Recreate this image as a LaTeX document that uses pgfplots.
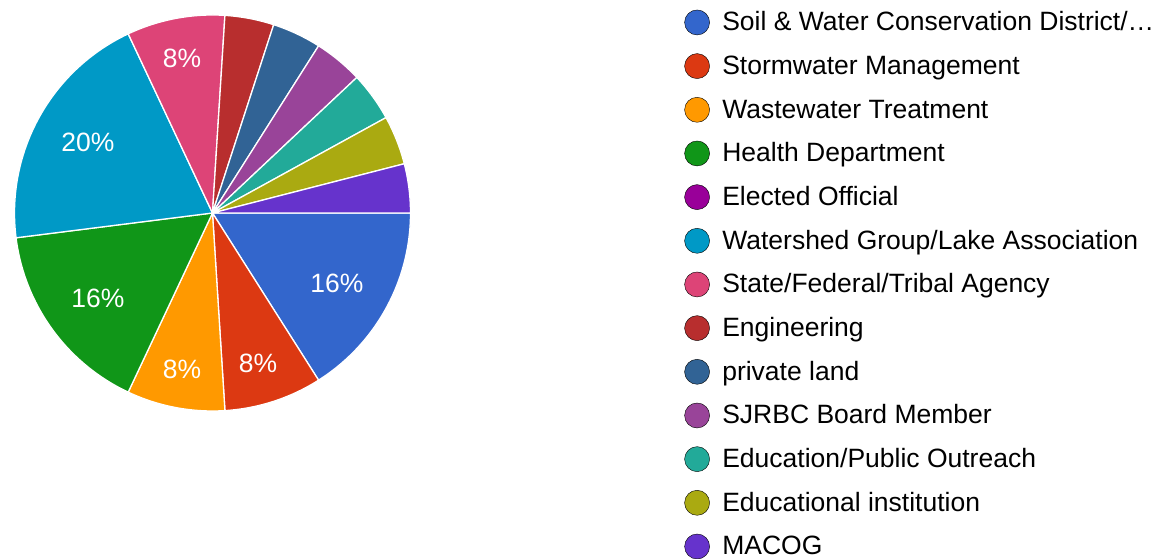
\documentclass[border=0pt]{standalone}
\usepackage{fontspec}
\setmainfont{Liberation Sans}
\usepackage{pgfplots}
\pgfplotsset{compat=1.18}
\definecolor{c1}{HTML}{3366CC}
\definecolor{c2}{HTML}{DC3912}
\definecolor{c3}{HTML}{FF9900}
\definecolor{c4}{HTML}{109618}
\definecolor{c5}{HTML}{990099}
\definecolor{c6}{HTML}{0099C6}
\definecolor{c7}{HTML}{DD4477}
\definecolor{c8}{HTML}{B82E2E}
\definecolor{c9}{HTML}{316395}
\definecolor{c10}{HTML}{994499}
\definecolor{c11}{HTML}{22AA99}
\definecolor{c12}{HTML}{AAAA11}
\definecolor{c13}{HTML}{6633CC}
% responses per category (25 in total); a slice runs from the running total before it to the one after it
% angle: clockwise from 3 o'clock, 360/25 = 14.4 degrees per response
\newcommand{\slice}[3]{\addplot[forget plot, fill=#3, draw=white, line width=1.3pt, line join=round, domain=#1:#2, samples=60]
  ({212.5+198*cos(-14.4*x)},{-213+198*sin(-14.4*x)}) -- (axis cs:212.5,-213) -- cycle;}
\pgfplotsset{circ/.style={legend image code/.code={\fill[##1] (12.5pt,0pt) circle (12.5pt);}}}
\newcommand{\pct}{\fontsize{26.5}{30}\selectfont}
\begin{document}
\begin{tikzpicture}
\begin{axis}[width=1165pt, height=559pt, scale only axis,
  xmin=0, xmax=1165, ymin=-559, ymax=0, hide axis, clip=false,
  legend style={draw=none, fill=none, inner sep=0pt, at={(axis cs:684.2,-8.5)}, anchor=north west,
    row sep=16.17pt, column sep=12.5pt, font=\fontsize{26.5}{30}\selectfont,
    nodes={inner sep=0pt, text height=22pt, text depth=5.5pt}},
  legend cell align=left]
% Soil & Water 4, Stormwater 2, Wastewater 2, Health 4, Elected 0, Watershed 5, State 2, then six of 1
\slice{0}{4}{c1}
\slice{4}{6}{c2}
\slice{6}{8}{c3}
\slice{8}{12}{c4}
\slice{12}{17}{c6}
\slice{17}{19}{c7}
\slice{19}{20}{c8}
\slice{20}{21}{c9}
\slice{21}{22}{c10}
\slice{22}{23}{c11}
\slice{23}{24}{c12}
\slice{24}{25}{c13}
\node[white, font=\pct, anchor=base] at (axis cs:337,-292.5) {16\%};
\node[white, font=\pct, anchor=base] at (axis cs:258,-372.5) {8\%};
\node[white, font=\pct, anchor=base] at (axis cs:182,-378.5) {8\%};
\node[white, font=\pct, anchor=base] at (axis cs:98,-307.5) {16\%};
\node[white, font=\pct, anchor=base] at (axis cs:88,-151.5) {20\%};
\node[white, font=\pct, anchor=base] at (axis cs:182,-67.5) {8\%};
\addlegendimage{circ, fill=c1}\addlegendentry{Soil \& Water Conservation District/…}
\addlegendimage{circ, fill=c2}\addlegendentry{Stormwater Management}
\addlegendimage{circ, fill=c3}\addlegendentry{Wastewater Treatment}
\addlegendimage{circ, fill=c4}\addlegendentry{Health Department}
\addlegendimage{circ, fill=c5}\addlegendentry{Elected Official}
\addlegendimage{circ, fill=c6}\addlegendentry{Watershed Group/Lake Association}
\addlegendimage{circ, fill=c7}\addlegendentry{State/Federal/Tribal Agency}
\addlegendimage{circ, fill=c8}\addlegendentry{Engineering}
\addlegendimage{circ, fill=c9}\addlegendentry{private land}
\addlegendimage{circ, fill=c10}\addlegendentry{SJRBC Board Member}
\addlegendimage{circ, fill=c11}\addlegendentry{Education/Public Outreach}
\addlegendimage{circ, fill=c12}\addlegendentry{Educational institution}
\addlegendimage{circ, fill=c13}\addlegendentry{MACOG}
\end{axis}
\pgfresetboundingbox
\useasboundingbox (current axis.south west) rectangle (current axis.north east);
\end{tikzpicture}
\end{document}
